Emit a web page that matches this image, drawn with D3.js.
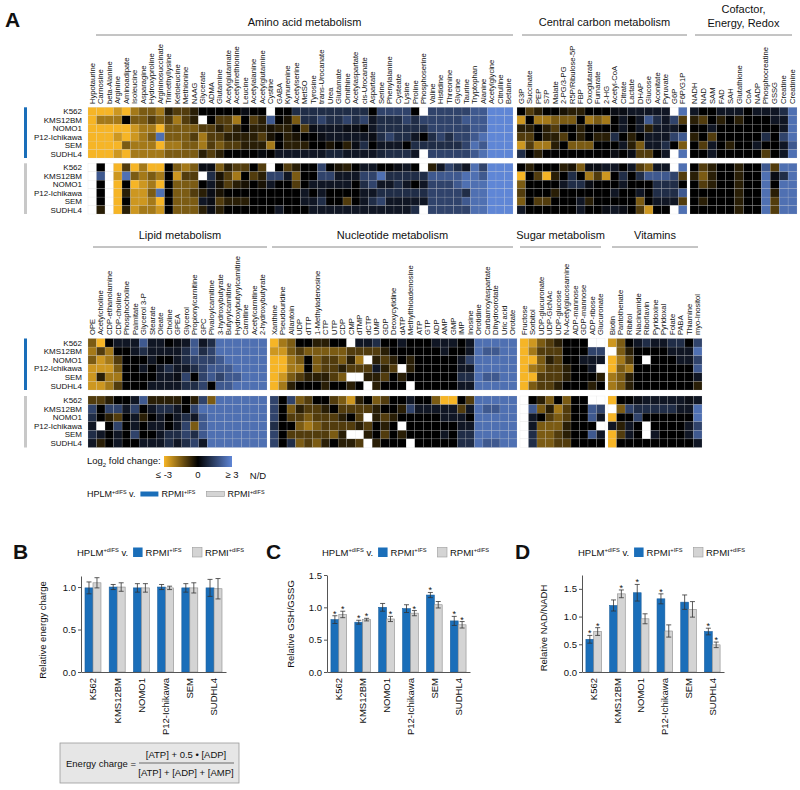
<!DOCTYPE html>
<html><head><meta charset="utf-8">
<script src="https://cdn.jsdelivr.net/npm/d3@7"></script>
<style>
body{margin:0;background:#fff}
text{font-family:'Liberation Sans',Arial,Helvetica,sans-serif;fill:#111}
</style></head>
<body><svg id="c" width="800" height="790"></svg>
<script>
// ---------------- DATA ----------------
const cellLines = ["K562","KMS12BM","NOMO1","P12-Ichikawa","SEM","SUDHL4"];
const N = null; // N/D

const aminoLabels = ["Hypotaurine","Carnosine","beta-Alanine","Arginine","Aminoadipate","Isoleucine","Asparagine","Hydroxyproline","Argininosuccinate","Trimethyllysine","Ketoleucine","Methionine","NAAG","Glycerate","ADMA","Glutamine","Acetylglutamate","Acetylmethionine","Leucine","Acetylalanine","Acetylglutamine","Cystine","GABA","Kynurenine","Acetylserine","MetSO","Tyrosine","trans-Urocanate","Urea","Glutamate","Ornithine","Acetylaspartate","cis-Urocanate","Aspartate","Serine","Phenylalanine","Cysteate","Lysine","Proline","Phosphoserine","Valine","Histidine","Threonine","Glycine","Taurine","Tryptophan","Alanine","Acetylglycine","Citrulline","Betaine"];
const aminoIFS = [
[-3,-3,-3,-2.5,-3,-2,-1.5,-1.5,-2,-0.5,-1,-1,-0.5,0,0,0,0,0,0.3,0,0,N,0,0,1,1,1,1,1,1,1,1,1,0,1.5,1.5,1.5,1.5,0,N,1.5,1.5,1.5,1.5,1.5,2,2,3,3,3],
[-3,-2,-2,-2,0,-1.5,-1.5,-1,-1.5,-1,-2,-1,-0.5,N,0,-1,-1,-2,0,-1,-0.5,2,0,-0.3,-1.5,1,1,1.5,1,1,1.5,1,1.5,0.5,1,1,1,1.5,1,1.5,1.5,1.5,1.5,1.5,2,2,2,3,3,3],
[-3,-3,-3,-3,-3,-2.5,-2,-2,-3,-1.5,-1.5,-1.5,-1.5,-1,-1,-0.5,-1,-0.5,0,-0.5,-0.5,-0.3,-0.5,-0.5,0,-1,0.3,0.5,0.5,0.5,0.3,0.3,0,0.5,1,1,1,1,1,1,1.5,1.5,1.5,1.5,1.5,2,2,3,3,3],
[-3,-3,-3,-2.5,-3,-2.5,-2,-1.5,2.5,-1.5,-1.5,-1.5,-1,-2,-1,-1,-0.5,-0.5,-0.5,-0.5,-1,-0.3,0,-0.5,-0.3,0,0,0.3,0.5,0.5,0.5,0.5,0.5,0.3,1,1.5,1,1,0.5,0,1,1.5,1,1.5,1.5,2,2.5,3,3,3],
[-3,-3,-3,-3,-1.5,-2,-2,-2,-3,-2,-2,-1.5,-1.5,-2,-1,-1.5,-1,-1,-0.5,-0.5,-0.5,-2,0,-0.5,-0.5,-0.5,0,0,-0.3,0,-0.5,0.3,1,0,0.5,0.5,0.5,0,1,1,1,1,1,1,1.5,2.5,2,3,3,3],
[-3,-3,-3,-2.5,-3,-2,-2,-2,-2,-1.5,-1.5,-1.5,-1.5,-0.5,-1,-0.5,0,0,0,0,0.2,0,0.5,0.5,0.5,0.5,0.5,0.5,0.8,0.8,0.5,0.5,0.5,0.5,0.8,1,1,1,0.5,N,1.5,1.5,1.5,1.5,1.5,2,2.5,3,3,3]];
const aminoDIFS = [
[N,0,N,-3,-1,-3,-2,-3,-3,0,-1.5,-2,-1.5,0.3,0.3,-1.5,-0.5,-1,-1,0,-1,N,0,-1,-0.5,0,0,1.5,0,-0.3,-0.5,0,0.5,0.5,0,0,0.3,0.5,0,N,-0.5,0.5,1.5,1,0.5,2.5,1.5,3,3,3],
[N,2,N,-2.5,2.5,-1.5,-2,-1.5,-2,0,-2.5,-1,-1,N,1,-0.3,-1,-2,0,-1,-0.5,1.5,1.5,0.5,-1.5,0,0,1.5,1.5,0.5,0.5,0.5,1.5,1.5,2.5,1,1,1,1,1,2,2,2,2,2.5,2.5,2,3,3,3],
[N,0,N,-3,0,-3,-2.5,-2,-3,0,-1.5,-1.5,-1.5,0,0.5,-0.3,-1,-0.5,-0.3,0,-0.3,0.5,0,0,-1,0,0.5,0.5,0.5,0.5,0.5,0,1,1.5,0.5,0.5,1,0.5,0,0.5,1.5,1.5,1.5,2,2.5,2.5,2.5,3,3,3],
[N,0,N,-3,-0.5,-2.5,-2.5,-1.5,2.5,0,-1.5,-1.5,-1,-0.5,0.3,-0.3,0,0,0,0,0,0,0,0,0,0.5,0,0.5,0,0,0,0,0.5,0.5,1,1,1,1,1,1,1.5,1.5,1.5,1.5,1,2.5,2.5,3,3,3],
[N,0,N,-3,0,-2.5,-2.5,-2,-3,0,-1.5,-1.5,-1.5,0.5,0.3,-1,-0.5,-0.5,-0.5,0,0,0,0,0,0,0.5,0.5,1,0,0,-1,0,0.5,1,1.5,0.5,0.5,0.5,0.5,0.5,1.5,1.5,1.5,1.5,2,2.5,2.5,3,3,3],
[N,-0.5,N,-3,-0.5,-2.5,-2,-2,-2.5,0,-1.5,-1.5,-1.5,-0.5,0.3,-0.5,0,0,0,0,0,0,0.5,0,0,0,0.5,0.5,0.5,0.5,0.5,0.5,0.5,0.5,0.5,0.5,0.5,0.5,1,N,1.5,1.5,1.5,1.5,1.5,2.5,2.5,3,3,3]];

const carbonLabels = ["G3P","Succinate","PEP","S7P","Malate","2-PG/3-PG","R5P/Ribulose-5P","FBP","Oxoglutarate","Fumarate","2-HG","Acetyl-CoA","Citrate","Lactate","DHAP","Glucose","Aconitate","Pyruvate","G6P","F6P/G1P"];
const carbonIFS = [
[0,-1,-0.5,0,0,-0.3,-0.5,-0.5,0,0,0,0.3,0.3,0.5,0.5,0.5,0.5,0.5,N,2.5],
[-2.5,0,-2,-2,-1.5,-1.5,-1.5,0,-2,-1.5,-2,0,0.5,0,0.5,2,1,0.5,1.5,-1],
[-0.5,-0.5,0,-0.5,-1,0,0,-0.5,0,0,0,0,0.5,0,0.5,-0.5,0.5,0.5,0.5,0],
[-1,-1,0,-0.5,-0.5,-1,0,-0.5,0,-0.5,-0.5,1,0,-0.5,0,0.5,0.5,0.5,1.5,2],
[-2.5,-1,-2,-2,-0.5,0,-1.5,-1.5,-1.5,0,0,0,0.5,-0.5,-1.5,0.5,0.5,1,0,-1.5],
[1,0,-0.5,0,0,0,0,0,0,0,0,0.3,0,0.3,-1,-1,0,0.5,N,2.5]];
const carbonDIFS = [
[0,-0.5,0,0,0,-0.5,-0.3,-1.5,0.3,0.3,0.5,0.5,0,0.5,-1,-1.5,0.5,0.5,N,2.5],
[-3,0,-1,-3,-0.5,0,1,0,-2,-1,-2.5,0,1,0,1,2,2,2,1.5,-1],
[-1.5,0,0,0,0,0.5,1,1,0.3,0,0,0,0.5,0,0,0,1,1,1,0],
[-1,0,0,0,-0.5,0,0,0,0,0,0,0.5,0,0,0.5,0,1,1,1,2],
[-1.5,0,-1,-1,0,0,0,0.5,-0.5,0,0,0,0,0,-1.5,0,0.5,0.5,0.5,-1],
[0.5,0,0,0,0,0,0,0.5,0,0,0.3,0.5,0.3,0,-1,-2.5,0,0,N,2.5]];

const cofactorLabels = ["NADH","NAD","SAM","FAD","SAH","Glutathione","CoA","NADP","Phosphocreatine","GSSG","Creatine","Creatinine"];
const cofactorIFS = [
[0.5,0,0,0.5,0.5,0.5,0,0.5,0.5,0.5,1,2.5],
[-0.5,-1,0,-0.5,0,-0.5,0,0,0,0.5,0.5,2.5],
[0,0,0.5,0,0,0,0,0,0,0,0.5,2.5],
[-0.5,0,-1,0,0,0,0,0,1,0,1.5,2.5],
[0,-1,0.5,0,-0.5,0,0,0.5,0,0,0.5,2],
[0,0,0.5,0,0,0,0,0,-1,0,0.5,2.5]];
const cofactorDIFS = [
[0,-1,-0.5,0,0,-0.5,0,0,2,-1,2.5,2.5],
[-0.5,-1.5,-0.5,0,0,-0.5,0,0,2.5,0.3,1,2.5],
[0,-1,-0.5,0,0,-0.5,0,0,2.5,0,2.5,2.5],
[0,0,0,0,0,-0.5,0,0,2.5,-0.5,2.5,2.5],
[0,-0.5,0,0,0,-0.5,0,0,2.5,-1,2.5,2.5],
[0,0,0,0,0,-0.5,0,0,2.5,-1,2.5,2.5]];

const lipidLabels = ["OPE","Acetylcholine","CDP-ethanolamine","CDP-choline","Phosphocholine","Palmitate","Glycerol 3-P","Stearate","Oleate","Choline","GPEA","Glycerol","Propionylcarnitine","GPC","Pivaloylcarnitine","3-hydroxybutyrate","Butyrylcarnitine","Hydroxybutyrylcarnitine","Carnitine","Acetylcarnitine","2-hydroxybutyrate"];
const lipidIFS = [
[-1.5,-3,0,0.5,0.5,0.5,2,0.5,0.5,0,0.3,0.5,2,0.5,1,2.5,2.5,2.5,2.5,2.5,2.5],
[-2,-1,-2,0,0,0.5,1,0.5,0.5,0.5,0.5,1,2,1,1.5,2.5,2.5,2.5,2.5,2.5,2.5],
[-1.5,-2.5,-2,-1,0,0,0,0.5,0,0,0.5,1,1.5,1.5,1.5,2,2.5,2.5,2.5,2.5,2.5],
[-2.5,-2.5,-2.5,-1.5,0,0,0.5,0,0.5,1,0.5,0.5,1,1.5,2,2,2,2.5,2.5,2.5,2.5],
[-2.5,-0.5,-2,-2,0,0,0,0,0.5,0.5,0.3,1.5,0,1.5,2,1.5,2,2,2.5,2.5,2.5],
[-2.5,-2.5,-2,-1,0,0,0,0.5,0.5,0.5,0.5,1,1,1.5,0,2,2,2.5,2.5,2.5,2.5]];
const lipidDIFS = [
[-1,-1,-0.5,0,0,0.5,2,-0.5,-0.5,-0.5,-0.5,0,-0.5,1.5,-1.5,2.5,2.5,2.5,2.5,2.5,2.5],
[1.5,0,1.5,1.5,0.5,1.5,0,0.5,1,1,0.5,0,1.5,2.5,2.5,2.5,2.5,2.5,2.5,2.5,2.5],
[1,0,-0.5,-1,0,0.5,-0.5,0,0.5,0,0.5,1,0.5,2,2.5,2.5,2.5,2.5,2.5,2.5,2.5],
[0.5,N,0,1.5,0,0.5,0,0.5,0.5,0,0.5,1.5,-1.5,2,2.5,2.5,2.5,2.5,2.5,2.5,2.5],
[1,0.5,0,0.5,0,1.5,0,0,0.5,1,1,1.5,1,2,2.5,2.5,2.5,2.5,2.5,2.5,2.5],
[0.5,-0.5,0,0.5,0,0,0.5,0.5,0.5,1,0.5,1,1.5,0.5,2.5,2.5,2.5,2.5,2.5,2.5,2.5]];

const nucleotideLabels = ["Xanthine","Pseudouridine","Allantoin","UDP","dTTP","1-Methyladenosine","CTP","UTP","CDP","CMP","dTMP","dCTP","UMP","GDP","Deoxycytidine","dATP","Methylthioadenosine","ATP","GTP","ADP","AMP","GMP","IMP","Inosine","Orotidine","Carbamoylaspartate","Dihydroorotate","Uric acid","Orotate"];
const nucleotideIFS = [
[-3,-2,-1.5,0,0,-0.5,-0.5,0,0,N,0.5,0.5,1,0,0,0.5,0,0,0,0.5,0.5,0.5,0,0.5,2.5,2.5,2.5,2.5,2.5],
[-2.5,-2.5,-1.5,-1,-1.5,-1.5,-1.5,-1.5,-1.5,-1,-1,-1,-1,-0.5,0,0,0,0,0,0,0.5,0,0,0.5,2.5,2,2,2.5,2.5],
[-3,-3,-2,-1.5,0,-1.5,-1,-1,-1.5,-0.5,-2,N,-0.5,-1,-0.5,0,-0.5,0,0,0,0,0,0.5,1.5,2.5,2.5,2.5,2.5,2.5],
[-3,-3,-2,-2,0,-1.5,-1,-1,-0.5,-1,-1,-1,0.5,-0.5,-1,N,-0.5,0,0,0,0,0,0.5,0.5,2.5,2.5,2.5,2.5,2.5],
[-3,-2.5,-1.5,-1,-0.5,-0.5,-0.5,-1,-1.5,N,N,-0.5,-0.5,-1,0,-0.5,0,0,0,0,0,0,1,1,2.5,2,2,2.5,2.5],
[-3,-2,-0.5,0,0,0,-0.5,0,0,-0.5,0,N,-0.5,0,0,0,N,0,0,0,0,0,0.5,0.5,2.5,2.5,2.5,2.5,2.5]];
const nucleotideDIFS = [
[1.5,0,1.5,-1.5,-1,0,0,-1,-1.5,-2.5,-0.5,0,-1.5,-1,0,0,0.5,0,0,-1.5,-3,-3,0,-1,2.5,2.5,2.5,2.5,2.5],
[1.5,0,-1.5,-0.5,-1,-1,-0.5,0,-1,-1,-1,-1,-0.5,0,0,-0.5,1.5,0.5,0.5,0.5,0.5,0.5,-1,0.5,2.5,2,2,2.5,2.5],
[1.5,0,-1,-1,-1.5,-1,-1,-1,-0.5,0,-1,N,-0.5,-1,-0.5,0,0,0,0,0,0.5,0.5,0.5,0,2.5,2.5,2.5,2.5,2.5],
[1,0,0,-1.5,-2,-1.5,-1,-1,-1,-1,-0.5,-1,0,-0.5,0,N,0,0,0,0,0,0,0.5,0.5,2.5,2.5,2.5,2.5,2.5],
[1.5,0,-1,-1,-1,-1,-1,-1.5,-0.5,N,N,-0.5,0,-1,0,-0.5,0,0,0,0,0.5,0,1,1,2.5,2.5,2.5,2.5,2.5],
[1.5,0,1,-1.5,-1,-1.5,-0.5,0,-0.5,-0.5,-1,N,-0.5,0,0,0,N,0,0,0,0,0,1,1,2.5,2,2,2.5,2.5]];

const sugarLabels = ["Fructose","Sorbitol","UDP-glucuronate","UDP-GlcNAc","UDP-glucose","N-Acetylglucosamine","ADP-mannose","GDP-mannose","ADP-ribose","Glucuronate"];
const sugarIFS = [
[-3,-2.5,-1.5,-1,-0.5,0,0,0,N,N],
[-3,-2,-1,-1,-1,0,0,0,1.5,1.5],
[-3,-3,-1.5,-0.5,-1,0,0,0.5,0.5,0.5],
[-3,-2,-1.5,-1,-1,-0.5,0,0,0.5,N],
[-3,-3,-1,-1,-1,-0.5,0,0,0,-0.5],
[-3,-1.5,-1,-1,-0.5,0,0,0,-0.5,0]];
const sugarDIFS = [
[N,0,-0.5,-1.5,0,-1.5,0,0,N,N],
[N,2,-1.5,-0.5,-2,-1,0,0,2,1.5],
[N,0.5,0,-1,-1.5,-1,0,0,2,0.5],
[N,0.5,-1.5,-1.5,-1.5,-0.5,0,0,0,N],
[N,1,-1.5,-1.5,-1,-0.5,0,0,2,0.5],
[N,1,-1.5,-1.5,-1,-1,0,0,0,0]];

const vitaminLabels = ["Biotin","Pantothenate","Ribitol","Niacinamide","Riboflavin","Pyridoxine","Pyridoxal","Folate","PABA","Thiamine","myo-Inositol"];
const vitaminIFS = [
[-2.5,-1.5,0,0.5,1,0.5,0.5,1,1,0,1.5],
[N,-1.5,-0.5,0,0,0,0,0.5,0.5,0.5,2.5],
[-3,-2,-1,0,N,0,0,0,0.5,0.5,1.5],
[-3,-1.5,-2,0,0,0,0,0,0,0,2],
[-2,-1.5,-0.5,0,0,0,0,0,0,0,0.5],
[-2,-1.5,-0.5,0,0,0,0,0,0,0,-0.5]];
const vitaminDIFS = [
[-3,0,0,0.3,0.5,0.5,0.5,0.5,0.5,0.3,0.5],
[N,-1.5,1.5,1,1,1,1,1,0.5,0.5,2.5],
[-3,0,0,1.5,0,0,0,0,0,0,2.5],
[0.5,-0.5,0.5,0,N,0,0,0,0,0.5,1.5],
[-3,-1,0.5,0,N,0.5,0,0,0,0.5,2],
[-3,0,0,0,0,0,0,0,0,0,0.5]];

const legendTicks = ["\u2264 -3","0","\u2265 3"];

// bar charts
const energyIFS = [0.99,1.0,0.99,1.0,0.99,0.99];
const energyIFSerr = [0.07,0.03,0.05,0.03,0.05,0.10];
const energyDIFS = [1.05,1.0,0.99,0.99,0.99,0.98];
const energyDIFSerr = [0.06,0.05,0.05,0.02,0.06,0.12];
const energySigIFS = [0,0,0,0,0,0];
const energySigDIFS = [0,0,0,0,0,0];

const gshIFS = [0.81,0.77,1.0,0.98,1.19,0.79];
const gshIFSerr = [0.06,0.03,0.06,0.06,0.04,0.07];
const gshDIFS = [0.89,0.81,0.82,0.91,1.04,0.73];
const gshDIFSerr = [0.05,0.02,0.04,0.04,0.05,0.05];
const gshSigIFS = [1,1,0,0,1,1];
const gshSigDIFS = [1,1,1,1,0,1];

const nadIFS = [0.59,1.2,1.43,1.32,1.26,0.73];
const nadIFSerr = [0.07,0.10,0.15,0.09,0.13,0.06];
const nadDIFS = [0.73,1.41,0.96,0.74,1.13,0.49];
const nadDIFSerr = [0.07,0.07,0.09,0.11,0.14,0.05];
const nadSigIFS = [1,0,1,1,0,1];
const nadSigDIFS = [1,1,0,0,0,1];

// ---------------- DRAWING ----------------
const svg = d3.select("#c");
const GOLD = "#f6b526", BLUE = "#5f86d6", BARBLUE = "#1a6eb9", BARGREY = "#d4d4d4";
const color = d3.scaleLinear().domain([-3,0,3]).range([GOLD,"#000000",BLUE]).clamp(true);

function heatBlock(labels, ifs, difs, L) {
  const x = d3.scaleBand().domain(labels).range([L.x0, L.x1]);
  const g = svg.append("g");
  [[ifs, L.y0, L.y1],[difs, L.y2, L.y3]].forEach(([data, a, b]) => {
    const y = d3.scaleBand().domain(cellLines).range([a, b]);
    const cells = [];
    data.forEach((row, ri) => row.forEach((v, ci) => cells.push({r: cellLines[ri], c: labels[ci], v})));
    g.selectAll(null).data(cells).enter().append("rect")
      .attr("x", d => x(d.c)).attr("y", d => y(d.r))
      .attr("width", x.bandwidth()).attr("height", y.bandwidth())
      .attr("fill", d => d.v === null ? "#ffffff" : color(d.v))
      .attr("stroke", "#d0d0d0").attr("stroke-opacity", 0.55).attr("stroke-width", 0.3);
  });
  g.selectAll(null).data(labels).enter().append("text")
    .attr("transform", d => `translate(${x(d) + x.bandwidth()/2},${L.labelY}) rotate(-90)`)
    .attr("dy", "0.35em").attr("font-size", 7.6).text(d => d);
  g.append("line").attr("x1", L.lx0).attr("x2", L.lx1).attr("y1", L.lineY).attr("y2", L.lineY)
    .attr("stroke", "#8a8a8a").attr("stroke-width", 1);
  L.title.forEach((t, i) => g.append("text").attr("x", (L.lx0 + L.lx1)/2).attr("y", L.titleY + i*14)
    .attr("text-anchor", "middle").attr("font-size", 11).text(t));
}

function rowLabels(y0, y1, barColor) {
  const y = d3.scaleBand().domain(cellLines).range([y0, y1]);
  svg.selectAll(null).data(cellLines).enter().append("text")
    .attr("x", 82).attr("y", d => y(d) + y.bandwidth()/2).attr("dy", "0.35em")
    .attr("text-anchor", "end").attr("font-size", 8).text(d => d);
  svg.append("rect").attr("x", 24).attr("y", y0).attr("width", 3).attr("height", y1 - y0).attr("fill", barColor);
}

// top heatmap
const T = {y0: 107.3, y1: 158, y2: 163.3, y3: 214, labelY: 104, lineY: 35};
heatBlock(aminoLabels, aminoIFS, aminoDIFS, Object.assign({}, T, {x0: 88, x1: 513, lx0: 96, lx1: 513, title: ["Amino acid metabolism"], titleY: 26}));
heatBlock(carbonLabels, carbonIFS, carbonDIFS, Object.assign({}, T, {x0: 517, x1: 687, lx0: 522, lx1: 687, title: ["Central carbon metabolism"], titleY: 26}));
heatBlock(cofactorLabels, cofactorIFS, cofactorDIFS, Object.assign({}, T, {x0: 690, x1: 797, lx0: 695, lx1: 792, title: ["Cofactor,", "Energy, Redox"], titleY: 13}));
rowLabels(107.3, 158, BARBLUE); rowLabels(163.3, 214, "#c8c8c8");

// bottom heatmap
const Bm = {y0: 338.5, y1: 390, y2: 396, y3: 447.5, labelY: 335, lineY: 247, titleY: 239};
heatBlock(lipidLabels, lipidIFS, lipidDIFS, Object.assign({}, Bm, {x0: 88, x1: 267, lx0: 93, lx1: 267, title: ["Lipid metabolism"]}));
heatBlock(nucleotideLabels, nucleotideIFS, nucleotideDIFS, Object.assign({}, Bm, {x0: 270, x1: 517, lx0: 272, lx1: 513, title: ["Nucleotide metabolism"]}));
heatBlock(sugarLabels, sugarIFS, sugarDIFS, Object.assign({}, Bm, {x0: 520, x1: 605, lx0: 520, lx1: 601, title: ["Sugar metabolism"]}));
heatBlock(vitaminLabels, vitaminIFS, vitaminDIFS, Object.assign({}, Bm, {x0: 608, x1: 702, lx0: 612, lx1: 698, title: ["Vitamins"]}));
rowLabels(338.5, 390, BARBLUE); rowLabels(396, 447.5, "#c8c8c8");

// panel letters
[["A",5,27],["B",13,559],["C",266,559],["D",515,559]].forEach(([t,x,y]) =>
  svg.append("text").attr("x", x).attr("y", y).attr("font-size", 21).attr("font-weight", "bold").text(t));

// colour legend
const defs = svg.append("defs");
const grad = defs.append("linearGradient").attr("id", "lg");
d3.range(0, 1.0001, 0.1).forEach(t => grad.append("stop").attr("offset", t).attr("stop-color", color(-3 + 6*t)));
const lgScale = d3.scalePoint().domain(legendTicks).range([164, 232]);
svg.append("rect").attr("x", 164).attr("y", 456).attr("width", 68).attr("height", 11).attr("fill", "url(#lg)");
const lt = svg.append("text").attr("x", 87).attr("y", 464).attr("font-size", 9.5);
lt.append("tspan").text("Log");
lt.append("tspan").attr("dy", 2.5).attr("font-size", 6).text("2");
lt.append("tspan").attr("dy", -2.5).text(" fold change:");
svg.selectAll(null).data(legendTicks).enter().append("text")
  .attr("x", d => lgScale(d)).attr("y", 478).attr("text-anchor", "middle").attr("font-size", 9.5).text(d => d);
svg.append("text").attr("x", 258).attr("y", 479).attr("text-anchor", "middle").attr("font-size", 9.5).text("N/D");

// legends with superscripts
function supText(x, y, base, sup, rest, size) {
  const t = svg.append("text").attr("x", x).attr("y", y).attr("font-size", size);
  t.append("tspan").text(base);
  t.append("tspan").attr("dy", -size*0.38).attr("font-size", size*0.6).text(sup);
  if (rest) t.append("tspan").attr("dy", size*0.38).text(rest);
  return t.node().getComputedTextLength();
}
function seriesLegend(x, y, size, sw, sh, dySw) {
  let cx = x;
  cx += supText(cx, y, "HPLM", "+dIFS", " v.", size) + 5;
  svg.append("rect").attr("x", cx).attr("y", y + dySw).attr("width", sw).attr("height", sh).attr("fill", BARBLUE);
  cx += sw + 3;
  cx += supText(cx, y, "RPMI", "+IFS", null, size) + 11;
  svg.append("rect").attr("x", cx).attr("y", y + dySw).attr("width", sw).attr("height", sh)
    .attr("fill", BARGREY).attr("stroke", "#9a9a9a").attr("stroke-width", 0.6);
  cx += sw + 3;
  supText(cx, y, "RPMI", "+dIFS", null, size);
}
seriesLegend(87, 497, 9, 18, 5, -5.5);
seriesLegend(77, 556, 9.5, 9.5, 9.5, -8.5);
seriesLegend(322, 556, 9.5, 9.5, 9.5, -8.5);
seriesLegend(578, 556, 9.5, 9.5, 9.5, -8.5);

// bar panels
function barPanel(c) {
  const g = svg.append("g");
  const x0 = d3.scaleBand().domain(cellLines).range([c.xl, c.xr]).paddingInner(0.34).paddingOuter(0.165);
  const x1 = d3.scaleBand().domain(["ifs","difs"]).range([0, x0.bandwidth()]);
  const y = d3.scaleLinear().domain([0, c.ymax]).range([672, c.ytop]);
  const rows = cellLines.map((cl, i) => [
    {cl, s: "ifs", v: c.ifs[i], e: c.ifsErr[i], sig: c.sigIfs[i]},
    {cl, s: "difs", v: c.difs[i], e: c.difsErr[i], sig: c.sigDifs[i]}]).flat();
  g.selectAll(null).data(rows).enter().append("rect")
    .attr("x", d => x0(d.cl) + x1(d.s)).attr("width", x1.bandwidth())
    .attr("y", d => y(d.v)).attr("height", d => y(0) - y(d.v))
    .attr("fill", d => d.s === "ifs" ? BARBLUE : BARGREY)
    .attr("stroke", d => d.s === "ifs" ? "#1a5f9e" : "#8c8c8c").attr("stroke-width", 0.6);
  const cx = d => x0(d.cl) + x1(d.s) + x1.bandwidth()/2;
  g.selectAll(null).data(rows).enter().append("path")
    .attr("d", d => `M${cx(d)},${y(d.v - d.e)}V${y(d.v + d.e)}M${cx(d)-2.5},${y(d.v - d.e)}h5M${cx(d)-2.5},${y(d.v + d.e)}h5`)
    .attr("stroke", "#333").attr("stroke-width", 0.8).attr("fill", "none");
  g.selectAll(null).data(rows.filter(d => d.sig)).enter().append("text")
    .attr("x", cx).attr("y", d => y(d.v + d.e) + 1).attr("text-anchor", "middle").attr("font-size", 9).text("*");
  const ya = g.append("g").attr("transform", `translate(${c.xl},0)`)
    .call(d3.axisLeft(y).tickValues(c.ticks).tickFormat(d3.format(".1f")).tickSize(3).tickSizeOuter(0));
  ya.selectAll("text").attr("font-size", 9.5).attr("font-family", null).attr("x", -5);
  const xa = g.append("g").attr("transform", "translate(0,672)")
    .call(d3.axisBottom(x0).tickSize(0).tickSizeOuter(0));
  xa.selectAll("text").attr("font-size", 9.5).attr("font-family", null)
    .attr("transform", "rotate(-90)").attr("text-anchor", "end").attr("x", -6).attr("y", 0).attr("dy", "0.35em");
  [ya, xa].forEach(a => { a.select(".domain").attr("stroke", "#555"); a.selectAll("line").attr("stroke", "#555"); });
  g.append("text").attr("transform", `translate(${c.labX},${c.labY}) rotate(-90)`)
    .attr("text-anchor", "middle").attr("font-size", 9.5).text(c.label);
}
barPanel({xl: 81, xr: 226, ymax: 1.13, ytop: 576, ticks: [0, 0.5, 1.0],
  ifs: energyIFS, ifsErr: energyIFSerr, difs: energyDIFS, difsErr: energyDIFSerr,
  sigIfs: energySigIFS, sigDifs: energySigDIFS, label: "Relative energy charge", labX: 46, labY: 630});
barPanel({xl: 327, xr: 470, ymax: 1.5, ytop: 575, ticks: [0, 0.5, 1.0, 1.5],
  ifs: gshIFS, ifsErr: gshIFSerr, difs: gshDIFS, difsErr: gshDIFSerr,
  sigIfs: gshSigIFS, sigDifs: gshSigDIFS, label: "Relative GSH/GSSG", labX: 294, labY: 624});
barPanel({xl: 582, xr: 724, ymax: 1.75, ytop: 575, ticks: [0, 0.5, 1.0, 1.5],
  ifs: nadIFS, ifsErr: nadIFSerr, difs: nadDIFS, difsErr: nadDIFSerr,
  sigIfs: nadSigIFS, sigDifs: nadSigDIFS, label: "Relative NAD/NADH", labX: 547, labY: 628});

// energy charge formula box
svg.append("rect").attr("x", 60).attr("y", 743).attr("width", 179).attr("height", 40)
  .attr("fill", "#e6e6e6").attr("stroke", "#9a9a9a").attr("stroke-width", 0.8);
svg.append("text").attr("x", 66).attr("y", 767).attr("font-size", 9.5).text("Energy charge =");
svg.append("text").attr("x", 186).attr("y", 758).attr("text-anchor", "middle").attr("font-size", 9.5).text("[ATP] + 0.5 \u2022 [ADP]");
svg.append("line").attr("x1", 139).attr("x2", 234).attr("y1", 763).attr("y2", 763).attr("stroke", "#333").attr("stroke-width", 0.7);
svg.append("text").attr("x", 186).attr("y", 776).attr("text-anchor", "middle").attr("font-size", 9.5).text("[ATP] + [ADP] + [AMP]");
</script></body></html>
